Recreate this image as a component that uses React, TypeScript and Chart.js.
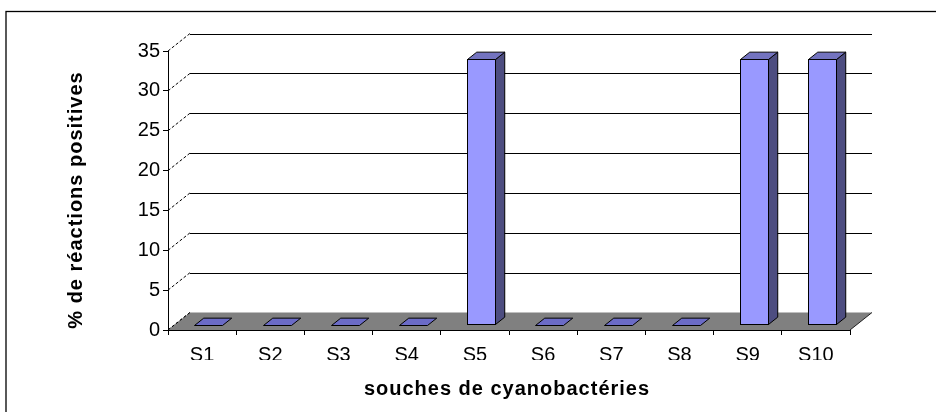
import React, { useEffect, useRef } from 'react';
import { Chart, registerables } from 'chart.js';

Chart.register(...registerables);

const categories = ['S1', 'S2', 'S3', 'S4', 'S5', 'S6', 'S7', 'S8', 'S9', 'S10'];
const positiveReactions = [0, 0, 0, 0, 33.33, 0, 0, 0, 33.33, 33.33];
const yTickValues = [0, 5, 10, 15, 20, 25, 30, 35];
const xTitleText = 'souches de cyanobactéries';
const yTitleText = '% de réactions positives';

const DX = 22;
const DY = 17.5;
const FRONT = 0.29;
const DEPTH = 0.42;

const threeD = {
  id: 'threeD',
  beforeDraw(chart: any) {
    const { ctx, chartArea: a } = chart;
    const y = chart.scales.y;
    ctx.save();
    ctx.fillStyle = '#ffffff';
    ctx.fillRect(0, 0, chart.width, chart.height);
    ctx.strokeStyle = '#000000';
    ctx.lineWidth = 1.3;
    ctx.strokeRect(6, 11.5, chart.width + 20, chart.height + 20);

    ctx.lineWidth = 1;
    for (const v of yTickValues) {
      const yf = y.getPixelForValue(v);
      if (v > 0) {
        ctx.strokeStyle = '#000000';
        ctx.setLineDash([]);
        ctx.beginPath();
        ctx.moveTo(a.left + DX, Math.round(yf - DY) + 0.5);
        ctx.lineTo(a.right + DX, Math.round(yf - DY) + 0.5);
        ctx.stroke();
      }
      ctx.strokeStyle = '#000000';
      ctx.setLineDash([3, 2]);
      ctx.beginPath();
      ctx.moveTo(a.left, yf);
      ctx.lineTo(a.left + DX, yf - DY);
      ctx.stroke();
    }
    ctx.setLineDash([]);
    // floor
    const y0 = y.getPixelForValue(0);
    ctx.fillStyle = '#808080';
    ctx.beginPath();
    ctx.moveTo(a.left, y0);
    ctx.lineTo(a.right, y0);
    ctx.lineTo(a.right + DX, y0 - DY);
    ctx.lineTo(a.left + DX, y0 - DY);
    ctx.closePath();
    ctx.fill();
    ctx.strokeStyle = '#000000';
    ctx.setLineDash([3, 2]);
    ctx.beginPath();
    ctx.moveTo(a.left, y0);
    ctx.lineTo(a.left + DX, y0 - DY);
    ctx.stroke();
    ctx.setLineDash([]);
    ctx.strokeStyle = '#202020';
    ctx.beginPath();
    ctx.moveTo(a.right, y0);
    ctx.lineTo(a.right + DX, y0 - DY);
    ctx.stroke();
    ctx.restore();
  },
  afterDatasetsDraw(chart: any) {
    const { ctx } = chart;
    const meta = chart.getDatasetMeta(0);
    ctx.save();
    ctx.lineWidth = 1;
    ctx.strokeStyle = '#000000';
    ctx.lineJoin = 'miter';
    const fdx = FRONT * DX;
    const fdy = FRONT * DY;
    const ddx = DEPTH * DX;
    const ddy = DEPTH * DY;
    meta.data.forEach((el: any) => {
      const p = el.getProps(['x', 'y', 'base', 'width'], true);
      const left = Math.round(p.x - p.width / 2 + fdx) + 0.5;
      const right = Math.round(p.x + p.width / 2 + fdx) + 0.5;
      const top = Math.round(p.y - fdy) + 0.5;
      const bottom = Math.round(p.base - fdy) + 0.5;
      const h = bottom - top;
      if (h > 1) {
        ctx.fillStyle = '#4d4d80';
        ctx.beginPath();
        ctx.moveTo(right, bottom);
        ctx.lineTo(right, top);
        ctx.lineTo(right + ddx, top - ddy);
        ctx.lineTo(right + ddx, bottom - ddy);
        ctx.closePath();
        ctx.fill();
        ctx.stroke();
        ctx.fillStyle = '#9999ff';
        ctx.fillRect(left, top, right - left, h);
        ctx.strokeRect(left, top, right - left, h);
      }
      ctx.fillStyle = h > 1 ? '#7373bf' : '#6b6bc6';
      ctx.beginPath();
      ctx.moveTo(left, top);
      ctx.lineTo(right, top);
      ctx.lineTo(right + ddx, top - ddy);
      ctx.lineTo(left + ddx, top - ddy);
      ctx.closePath();
      ctx.fill();
      ctx.stroke();
    });
    ctx.restore();
  },
  afterDraw(chart: any) {
    const { ctx } = chart;
    ctx.save();
    ctx.fillStyle = '#000000';
    ctx.font = 'bold 20px "Liberation Sans", Arial, sans-serif';
    try { (ctx as any).letterSpacing = '1px'; } catch (e) {}
    ctx.textAlign = 'center';
    ctx.textBaseline = 'alphabetic';
    ctx.fillText(xTitleText, 507, 395);
    ctx.translate(76, 200);
    ctx.rotate(-Math.PI / 2);
    ctx.textBaseline = 'middle';
    ctx.fillText(yTitleText, 0, 0);
    ctx.restore();
  },
};

export default function App() {
  const ref = useRef<HTMLCanvasElement | null>(null);
  useEffect(() => {
    document.body.style.margin = '0';
    document.body.style.overflow = 'hidden';
    const canvas = ref.current;
    if (!canvas) return;
    const tickFont = { family: '"Liberation Sans", Arial, sans-serif', size: 20 };
    const chart = new Chart(canvas, {
      type: 'bar',
      data: {
        labels: categories,
        datasets: [
          {
            data: positiveReactions,
            backgroundColor: 'rgba(0,0,0,0)',
            borderWidth: 0,
            barPercentage: 0.41,
            categoryPercentage: 1,
          },
        ],
      },
      options: {
        animation: false,
        responsive: false,
        devicePixelRatio: 1,
        events: [],
        layout: { padding: { left: 108, top: 51, right: 86, bottom: 52 } },
        plugins: { legend: { display: false }, tooltip: { enabled: false }, title: { display: false } },
        scales: {
          x: {
            type: 'category',
            grid: { display: true, drawOnChartArea: false, drawTicks: true, tickLength: 5, color: '#000000', offset: true },
            border: { display: true, color: '#000000', width: 1 },
            ticks: { font: tickFont, color: '#000000', padding: 8, maxRotation: 0, autoSkip: false },
            afterFit: (s: any) => { s.height = 30; },
          },
          y: {
            min: 0,
            max: 35,
            grid: { display: true, drawOnChartArea: false, drawTicks: true, tickLength: 5, color: '#000000' },
            border: { display: true, color: '#000000', width: 1 },
            ticks: { font: tickFont, color: '#000000', padding: 3, stepSize: 5 },
            afterBuildTicks: (s: any) => { s.ticks = yTickValues.map((v) => ({ value: v })); },
            afterFit: (s: any) => { s.width = 60; },
          },
        },
      },
      plugins: [threeD],
    });
    return () => chart.destroy();
  }, []);
  return <canvas ref={ref} width={936} height={412} style={{ display: 'block' }} />;
}
